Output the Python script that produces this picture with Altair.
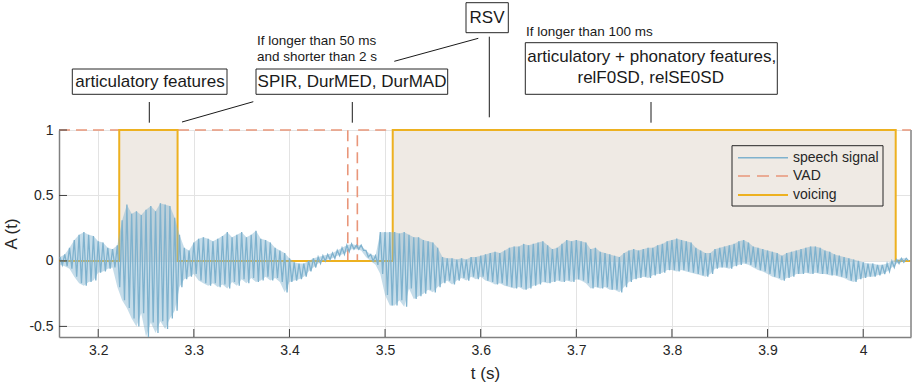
import altair as alt
import pandas as pd

# ---------------- data ----------------
# speech signal: upper / lower excursion read every 5 ms, starting at 3.160 s
sig_t0 = 3.160
sig_dt = 0.005
sig_hi = [
    0.03, 0.05, 0.10, 0.16, 0.20, 0.22, 0.20, 0.19, 0.15, 0.14,
    0.10, 0.09, 0.12, 0.31, 0.43, 0.36, 0.38, 0.35, 0.39, 0.42,
    0.38, 0.44, 0.43, 0.42, 0.33, 0.20, 0.10, 0.08, 0.14, 0.17,
    0.18, 0.17, 0.15, 0.17, 0.19, 0.22, 0.18, 0.20, 0.22, 0.18,
    0.20, 0.23, 0.17, 0.16, 0.14, 0.10, 0.08, 0.06, 0.02, -0.01,
    -0.02, -0.02, 0.00, 0.02, 0.03, 0.04, 0.05, 0.06, 0.08, 0.10,
    0.12, 0.13, 0.12, 0.12, 0.08, 0.05, 0.04, 0.22, 0.22, 0.22,
    0.22, 0.21, 0.22, 0.20, 0.18, 0.18, 0.16, 0.15, 0.14, 0.10,
    0.03, 0.02, 0.02, 0.01, 0.02, 0.01, 0.03, 0.03, 0.04, 0.05,
    0.06, 0.07, 0.06, 0.08, 0.10, 0.11, 0.11, 0.13, 0.12, 0.13,
    0.14, 0.15, 0.12, 0.09, 0.10, 0.13, 0.16, 0.15, 0.16, 0.15,
    0.14, 0.09, 0.10, 0.07, 0.06, 0.05, 0.04, 0.03, 0.06, 0.08,
    0.09, 0.08, 0.09, 0.10, 0.10, 0.12, 0.13, 0.15, 0.16, 0.17,
    0.16, 0.15, 0.14, 0.10, 0.08, 0.06, 0.06, 0.09, 0.10, 0.11,
    0.12, 0.13, 0.15, 0.16, 0.14, 0.11, 0.10, 0.09, 0.08, 0.07,
    0.06, 0.04, 0.06, 0.07, 0.08, 0.09, 0.10, 0.11, 0.11, 0.10,
    0.08, 0.07, 0.05, 0.04, 0.03, 0.02, 0.01, 0.00, -0.01, -0.02,
    -0.02, -0.03, -0.03, -0.02, 0.00, 0.01, 0.02, 0.02,
]
sig_lo = [
    -0.03, -0.04, -0.06, -0.12, -0.17, -0.19, -0.16, -0.15, -0.09, -0.08,
    -0.06, -0.05, -0.20, -0.30, -0.36, -0.44, -0.50, -0.40, -0.58, -0.47,
    -0.55, -0.46, -0.52, -0.44, -0.38, -0.20, -0.14, -0.12, -0.10, -0.15,
    -0.17, -0.19, -0.17, -0.20, -0.18, -0.21, -0.16, -0.19, -0.14, -0.17,
    -0.13, -0.16, -0.15, -0.12, -0.15, -0.13, -0.16, -0.24, -0.16, -0.15,
    -0.14, -0.12, -0.08, -0.05, -0.02, 0.00, 0.01, 0.02, 0.04, 0.05,
    0.07, 0.09, 0.09, 0.08, 0.03, 0.00, -0.03, -0.10, -0.26, -0.34,
    -0.34, -0.30, -0.35, -0.21, -0.29, -0.27, -0.25, -0.22, -0.24, -0.20,
    -0.17, -0.15, -0.18, -0.15, -0.13, -0.15, -0.12, -0.14, -0.12, -0.15,
    -0.16, -0.18, -0.17, -0.19, -0.20, -0.21, -0.20, -0.22, -0.21, -0.19,
    -0.18, -0.16, -0.17, -0.16, -0.15, -0.16, -0.15, -0.16, -0.14, -0.15,
    -0.17, -0.21, -0.20, -0.21, -0.20, -0.22, -0.22, -0.24, -0.20, -0.16,
    -0.14, -0.13, -0.12, -0.13, -0.11, -0.10, -0.09, -0.07, -0.07, -0.08,
    -0.07, -0.08, -0.09, -0.10, -0.11, -0.12, -0.10, -0.06, -0.05, -0.05,
    -0.06, -0.04, -0.03, -0.02, -0.03, -0.05, -0.07, -0.08, -0.10, -0.12,
    -0.13, -0.15, -0.13, -0.12, -0.10, -0.10, -0.09, -0.10, -0.09, -0.10,
    -0.10, -0.11, -0.11, -0.12, -0.13, -0.15, -0.16, -0.14, -0.13, -0.12,
    -0.12, -0.11, -0.10, -0.08, -0.05, -0.02, -0.01, 0.00,
]

vad_t = [3.159, 3.461, 3.461, 3.471, 3.471, 4.050]
vad_v = [1, 1, 0, 0, 1, 1]
voi_t = [3.159, 3.222, 3.222, 3.283, 3.283, 3.508, 3.508, 4.034, 4.034, 4.050]
voi_v = [0, 0, 1, 1, 0, 0, 1, 1, 0, 0]
voiced_start = [3.222, 3.508]
voiced_end = [3.283, 4.034]

x_ticks = [3.2, 3.3, 3.4, 3.5, 3.6, 3.7, 3.8, 3.9, 4.0]
y_ticks = [-0.5, 0, 0.5, 1]
x_domain = [3.159, 4.050]
y_domain = [-0.581, 1.0]

legend_labels = ["speech signal", "VAD", "voicing"]
box_texts = ["articulatory features", "SPIR, DurMED, DurMAD", "RSV",
             "articulatory + phonatory features,", "relF0SD, relSE0SD"]
note_texts = ["If longer than 50 ms", "and shorter than 2 s", "If longer than 100 ms"]

# ---------------- tables ----------------
sig_rows = []
env_rows = []
for i, (h, l) in enumerate(zip(sig_hi, sig_lo)):
    t = sig_t0 + i * sig_dt
    sig_rows.append({"t": t, "v": h, "i": 2 * i})
    sig_rows.append({"t": t + sig_dt / 2, "v": l, "i": 2 * i + 1})
    env_rows.append({"t": t, "hi": h, "lo": l})
df_sig = pd.DataFrame(sig_rows)
df_env = pd.DataFrame(env_rows)
df_vad = pd.DataFrame({"t": vad_t, "v": vad_v, "i": range(len(vad_t))})
df_voi = pd.DataFrame({"t": voi_t, "v": voi_v, "i": range(len(voi_t))})
df_fill = pd.DataFrame({"s": voiced_start, "e": voiced_end, "top": [1] * 2, "bot": [0] * 2})
df_xt = pd.DataFrame({"t": x_ticks})
df_yt = pd.DataFrame({"v": y_ticks})

# ---------------- styling / layout ----------------
W, H = 852, 207
FONT = "Liberation Sans"
TXT = "#262626"
C_SIG = "#7FB2CE"
C_VAD = "#E9967A"
C_VOI = "#EDB120"
C_FILL = "#EFEAE4"

xs = alt.Scale(domain=x_domain, nice=False, zero=False)
ys = alt.Scale(domain=y_domain, nice=False, zero=False)

ax_common = dict(grid=True, gridColor="#e3e3e3", gridWidth=1, tickSize=0,
                 domainColor="#808080", domainWidth=1.5,
                 labelFont=FONT, labelFontSize=14, labelColor=TXT,
                 titleFont=FONT, titleFontSize=17, titleFontWeight="normal",
                 titleColor=TXT, labelExpr="toString(datum.value)")
ax_x = alt.Axis(values=x_ticks, labelPadding=6, titlePadding=8, **ax_common)
ax_y = alt.Axis(values=y_ticks, labelPadding=6, titlePadding=8, **ax_common)


def X(f):
    return alt.X(f, type="quantitative", scale=xs, axis=ax_x, title="t (s)")


def Y(f):
    return alt.Y(f, type="quantitative", scale=ys, axis=ax_y, title="A (t)")


fill = alt.Chart(df_fill).mark_rect(color=C_FILL).encode(
    x=X("s"), x2="e", y=Y("top"), y2="bot")

vad = alt.Chart(df_vad).mark_line(color=C_VAD, strokeWidth=1.6, strokeDash=[11, 6]).encode(
    x=X("t"), y=Y("v"), order="i:Q")
voi = alt.Chart(df_voi).mark_line(color=C_VOI, strokeWidth=2).encode(
    x=X("t"), y=Y("v"), order="i:Q")
env = alt.Chart(df_env).mark_area(color=C_SIG, opacity=0.45, interpolate="linear").encode(
    x=X("t"), y=Y("hi"), y2="lo")
sig = alt.Chart(df_sig).mark_line(color=C_SIG, strokeWidth=1.3).encode(
    x=X("t"), y=Y("v"), order="i:Q")

xtick = alt.Chart(df_xt).mark_rule(color="#404040", strokeWidth=1).encode(
    x=X("t"), y=alt.value(H), y2=alt.value(H - 8))
ytick = alt.Chart(df_yt).mark_rule(color="#404040", strokeWidth=1).encode(
    y=Y("v"), x=alt.value(0), x2=alt.value(8))
right_edge = alt.Chart(df_yt).mark_rule(color="#9a9a9a", strokeWidth=1).encode(
    x=alt.value(W), y=alt.value(0), y2=alt.value(H))

# legend (pixel layout inside plot area)
df_leg = pd.DataFrame({"label": legend_labels, "y": [27.7, 46, 65]})
leg_box = alt.Chart(df_leg.head(1)).mark_rect(fillOpacity=0, stroke=TXT, strokeWidth=1).encode(
    x=alt.value(673), x2=alt.value(824), y=alt.value(15.7), y2=alt.value(76))
leg_l1 = alt.Chart(df_leg.head(1)).mark_rule(color=C_SIG, strokeWidth=1.5).encode(
    x=alt.value(679), x2=alt.value(729), y=alt.value(27.7))
leg_l2 = alt.Chart(df_leg.head(1)).mark_rule(color=C_VAD, strokeWidth=1.6, strokeDash=[12, 7]).encode(
    x=alt.value(679), x2=alt.value(729), y=alt.value(46))
leg_l3 = alt.Chart(df_leg.head(1)).mark_rule(color=C_VOI, strokeWidth=2).encode(
    x=alt.value(679), x2=alt.value(729), y=alt.value(65))
leg_txt = alt.Chart(df_leg).mark_text(align="left", baseline="middle", font=FONT,
                                      fontSize=14, color=TXT).encode(
    x=alt.value(734), y=alt.Y("y:Q", scale=None), text="label:N")

# annotations above the plot (pixel layout relative to the plot area)
df_boxes = pd.DataFrame({"x": [13.3, 197, 407, 466.3], "x2": [168, 388.7, 449.3, 718.3],
                         "y": [-61, -61, -127.3, -87.3], "y2": [-35.7, -35.7, -97.3, -35.7]})
df_lines = pd.DataFrame({"x": [90.3, 293.3, 430.3, 592, 123, 335.3],
                         "y": [-28, -28, -93.3, -28, -8, -68.7],
                         "x2": [90.3, 293.3, 430.3, 592, 194.3, 419.3],
                         "y2": [-7.3, -7.3, -12.7, -7.3, -28.3, -91.7]})
df_btxt = pd.DataFrame({"text": box_texts, "x": [91, 293, 428, 592.7, 591.7],
                        "y": [-48.3, -48.3, -111.7, -73.3, -51.7]})
df_ntxt = pd.DataFrame({"text": note_texts, "x": [198, 198, 467], "y": [-89, -73, -98]})

ann_box = alt.Chart(df_boxes).mark_rect(fill="white", stroke=TXT, strokeWidth=1).encode(
    x=alt.X("x:Q", scale=None), x2="x2:Q", y=alt.Y("y:Q", scale=None), y2="y2:Q")
ann_line = alt.Chart(df_lines).mark_rule(color="#1a1a1a", strokeWidth=1).encode(
    x=alt.X("x:Q", scale=None), x2="x2:Q", y=alt.Y("y:Q", scale=None), y2="y2:Q")
ann_btxt = alt.Chart(df_btxt).mark_text(align="center", baseline="middle", font=FONT,
                                        fontSize=17, color="#1a1a1a").encode(
    x=alt.X("x:Q", scale=None), y=alt.Y("y:Q", scale=None), text="text:N")
ann_ntxt = alt.Chart(df_ntxt).mark_text(align="left", baseline="middle", font=FONT,
                                        fontSize=13.5, color="#1a1a1a").encode(
    x=alt.X("x:Q", scale=None), y=alt.Y("y:Q", scale=None), text="text:N")

chart = alt.layer(
    fill, vad, voi, env, sig, xtick, ytick, right_edge,
    leg_box, leg_l1, leg_l2, leg_l3, leg_txt,
    ann_box, ann_line, ann_btxt, ann_ntxt,
).properties(
    width=W, height=H,
    autosize=alt.AutoSizeParams(type="none"),
    padding={"left": 59, "top": 130, "right": 2, "bottom": 52},
    background="white",
).configure_view(stroke=None)

chart.save("out.html", embed_options={"renderer": "svg", "actions": False})
